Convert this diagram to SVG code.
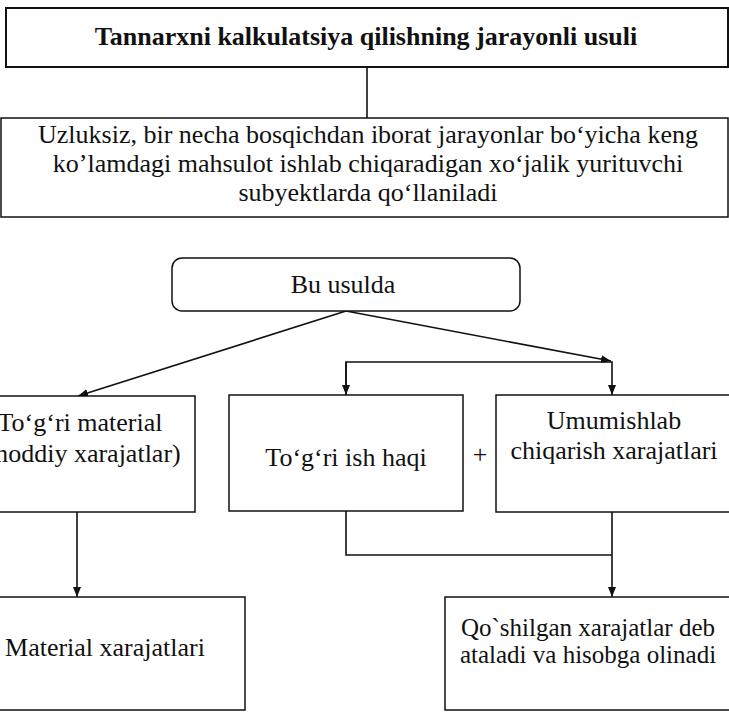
<svg xmlns="http://www.w3.org/2000/svg" width="729" height="712" viewBox="0 0 729 712">
<defs>
<style>
.box{fill:#fff;stroke:#111;stroke-width:1.5}
.tbox{fill:#fff;stroke:#111;stroke-width:2}
.t{font-family:"Liberation Serif","Times New Roman",serif;font-size:26px;fill:#111;text-anchor:middle}
.b{font-weight:bold}
.s{font-size:25px}
.ln{fill:none;stroke:#111;stroke-width:1.6}
</style>
<marker id="ah" viewBox="0 0 10 8" refX="10" refY="4" markerWidth="10" markerHeight="8" markerUnits="userSpaceOnUse" orient="auto">
<path d="M0,0 L10,4 L0,8 Z" fill="#111"/>
</marker>
</defs>
<rect width="729" height="712" fill="#fff"/>
<g id="connectors">
<line class="ln" x1="367" y1="67" x2="367" y2="118"/>
<line class="ln" x1="346" y1="311" x2="78" y2="396" marker-end="url(#ah)"/>
<line class="ln" x1="346" y1="311" x2="611" y2="361" marker-end="url(#ah)"/>
<polyline class="ln" points="346,395 346,362 612,362 612,395" marker-end="url(#ah)"/>
<line class="ln" x1="346" y1="362" x2="346" y2="395" marker-end="url(#ah)"/>
<line class="ln" x1="77" y1="512" x2="77" y2="597" marker-end="url(#ah)"/>
<polyline class="ln" points="346,511 346,555 612,555"/>
<line class="ln" x1="612" y1="512" x2="612" y2="597" marker-end="url(#ah)"/>
</g>
<g id="title">
<rect class="tbox" x="6" y="8" width="722" height="59"/>
<text class="t b" x="366" y="45">Tannarxni kalkulatsiya qilishning jarayonli usuli</text>
</g>
<g id="description">
<rect class="box" x="1" y="118" width="727" height="99"/>
<text class="t" x="368" y="143">Uzluksiz, bir necha bosqichdan iborat jarayonlar bo‘yicha keng</text>
<text class="t" x="368" y="172">ko’lamdagi mahsulot ishlab chiqaradigan xo‘jalik yurituvchi</text>
<text class="t" x="368" y="201">subyektlarda qo‘llaniladi</text>
</g>
<g id="bu-usulda">
<rect class="box" x="172" y="258" width="348" height="53" rx="10"/>
<text class="t" x="343" y="293">Bu usulda</text>
</g>
<g id="togri-material">
<rect class="box" x="-40" y="396" width="235" height="116"/>
<text class="t" x="80" y="431">To‘g‘ri material</text>
<text class="t" x="80" y="462">(moddiy xarajatlar)</text>
</g>
<g id="togri-ish-haqi">
<rect class="box" x="229" y="395" width="234" height="116"/>
<text class="t" x="346" y="466">To‘g‘ri ish haqi</text>
</g>
<g id="plus">
<text class="t" x="480" y="463">+</text>
</g>
<g id="umumishlab">
<rect class="box" x="496" y="395" width="244" height="117"/>
<text class="t" x="614" y="429">Umumishlab</text>
<text class="t" x="614" y="459">chiqarish xarajatlari</text>
</g>
<g id="material-xarajatlari">
<rect class="box" x="-40" y="597" width="285" height="113"/>
<text class="t" x="105" y="656">Material xarajatlari</text>
</g>
<g id="qoshilgan">
<rect class="box" x="445" y="597" width="295" height="113"/>
<text class="t s" x="588" y="636">Qo`shilgan xarajatlar deb</text>
<text class="t s" x="588" y="663">ataladi va hisobga olinadi</text>
</g>
</svg>
